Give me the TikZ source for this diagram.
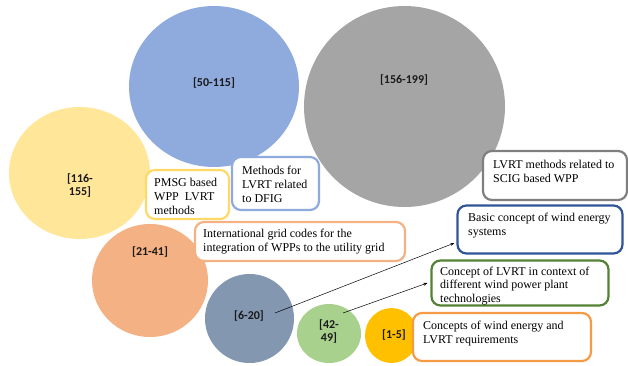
\documentclass[tikz,border=0pt]{standalone}
\usepackage{fontspec}
\setmainfont{Liberation Serif}
\newfontfamily\labfont{Carlito}
\usetikzlibrary{arrows.meta}
\definecolor{cBlue}{HTML}{8FAADC}
\definecolor{cGray}{HTML}{A5A5A5}
\definecolor{cYellow}{HTML}{FFE699}
\definecolor{cSalmon}{HTML}{F4B183}
\definecolor{cSlate}{HTML}{8497B0}
\definecolor{cGreen}{HTML}{A9D18E}
\definecolor{cGold}{HTML}{FFC000}
\definecolor{bYellow}{HTML}{FFD966}
\definecolor{bGray}{HTML}{7F7F7F}
\definecolor{bDark}{HTML}{2F5597}
\definecolor{bGreen}{HTML}{548235}
\definecolor{bOrange}{HTML}{F59B45}
\tikzset{
  bubtext/.style={font=\labfont\bfseries\fontsize{12}{13}\selectfont, text=black!90, align=center, inner sep=0pt},
  infobox/.style={draw=#1, line width=2.2pt, rounded corners=9pt, fill=white, inner sep=0pt},
  infotext/.style={font=\fontsize{12}{13.8}\selectfont, align=left, anchor=north west, inner sep=0pt},
  conn/.style={-{Stealth[length=4pt,width=3pt]}, line width=0.5pt, black}
}
\begin{document}
\begin{tikzpicture}[x=1pt,y=-1pt]
\useasboundingbox (0,0) rectangle (628,365);
% bubbles
\fill[cBlue] (214,86.5) ellipse [x radius=85, y radius=80.5];
\fill[cGray] (404.5,106.5) ellipse [x radius=100.5, y radius=100.5];
\fill[cYellow] (79.5,173) ellipse [x radius=70.5, y radius=66];
\fill[cSalmon] (150,280.5) ellipse [x radius=58, y radius=56.5];
\fill[cSlate] (249.5,318.5) ellipse [x radius=44.5, y radius=44.5];
\fill[cGreen] (329,333.5) ellipse [x radius=32, y radius=29.5];
\fill[cGold] (391.5,335.5) ellipse [x radius=26.5, y radius=27.5];
% bubble labels
\node[bubtext] (l1) at (214,83) {[50-115]};
\node[bubtext] (l2) at (404,80) {[156-199]};
\node[bubtext] (l3) at (80,185.5) {[116-\\155]};
\node[bubtext] (l4) at (150,252) {[21-41]};
\node[bubtext] (l5) at (249,316) {[6-20]};
\node[bubtext] (l6) at (329,331.5) {[42-\\49]};
\node[bubtext] (l7) at (394,335) {[1-5]};
% boxes
\draw[infobox=bYellow] (146,170) rectangle (229,219);
\node[infotext] (t1) at (154,178) {PMSG based\\WPP\ \ LVRT\\methods};
\draw[infobox=cBlue] (232,157) rectangle (319,210);
\node[infotext] (t2) at (242,166) {Methods for\\LVRT related\\to DFIG};
\draw[infobox=bGray] (483,151) rectangle (627,200);
\node[infotext] (t3) at (493,160) {LVRT methods related to\\SCIG based WPP};
\draw[infobox=cSalmon] (195,222) rectangle (405,261);
\node[infotext] (t4) at (203,229) {International grid codes for the\\integration of WPPs to the utility grid};
\node[infobox=bDark, minimum width=165pt, minimum height=48pt] (b5) at (540,229.5) {};
\node[infotext] (t5) at (468,213) {Basic concept of wind energy\\systems};
\node[infobox=bGreen, minimum width=177pt, minimum height=45pt] (b6) at (520,283) {};
\node[infotext] (t6) at (440,266.5) {Concept of LVRT in context of\\different wind power plant\\technologies};
\draw[infobox=bOrange] (413,313) rectangle (591,361);
\node[infotext] (t7) at (423,321) {Concepts of wind energy and\\LVRT requirements};
% connectors
\coordinate (s1) at (275,313);
\coordinate (s2) at (343,313);
\draw[conn] (s1) -- ([yshift=-13.5pt,xshift=-2pt]b5.west);
\draw[conn] (s2) -- ([xshift=-3pt]b6.west);
\end{tikzpicture}
\end{document}
